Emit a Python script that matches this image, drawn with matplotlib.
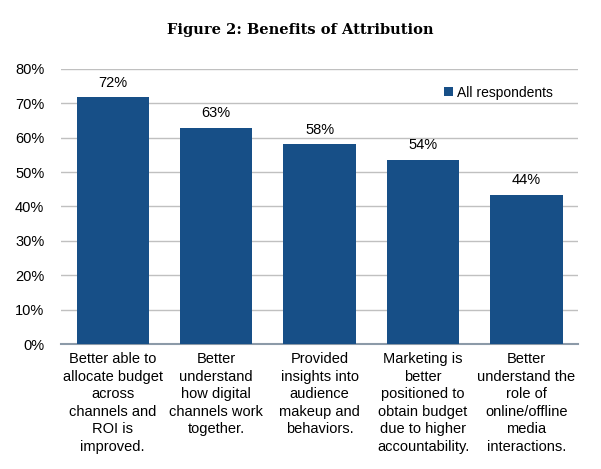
import matplotlib.pyplot as plt
from matplotlib.ticker import PercentFormatter

# Chart data
categories = [
    "Better able to\nallocate budget\nacross\nchannels and\nROI is\nimproved.",
    "Better\nunderstand\nhow digital\nchannels work\ntogether.",
    "Provided\ninsights into\naudience\nmakeup and\nbehaviors.",
    "Marketing is\nbetter\npositioned to\nobtain budget\ndue to higher\naccountability.",
    "Better\nunderstand the\nrole of\nonline/offline\nmedia\ninteractions.",
]
values = [71.8, 62.9, 58.1, 53.6, 43.4]
value_labels = ["72%", "63%", "58%", "54%", "44%"]
series_name = "All respondents"

BAR_COLOR = "#174F87"

plt.rcParams['font.family'] = ['Liberation Sans', 'DejaVu Sans']

fig = plt.figure(figsize=(6.01, 4.69), dpi=100)
ax = fig.add_axes([0.1015, 0.2665, 0.8605, 0.5865])

x = list(range(len(categories)))
bars = ax.bar(x, values, width=0.7, color=BAR_COLOR, label=series_name, zorder=3)

for b, lab in zip(bars, value_labels):
    ax.text(b.get_x() + b.get_width() / 2, b.get_height() + 2.2, lab,
            ha="center", va="bottom", fontsize=10.5)

ax.set_ylim(0, 80)
ax.set_xlim(-0.5, len(categories) - 0.5)
ax.set_yticks(range(0, 81, 10))
ax.yaxis.set_major_formatter(PercentFormatter(decimals=0))
ax.grid(axis="y", color="#C0C0C0", linewidth=1.0, zorder=0)
ax.set_axisbelow(True)

for side in ["top", "right", "left"]:
    ax.spines[side].set_visible(False)
ax.spines["bottom"].set_color("#8C9AA8")
ax.spines["bottom"].set_linewidth(1.5)

ax.set_xticks(x)
ax.set_xticklabels(categories, fontsize=10.5, linespacing=1.32, va="top")
ax.tick_params(axis="x", length=0, pad=6)
ax.tick_params(axis="y", length=0, labelsize=10.5, pad=12)

ax.legend(loc="upper right", bbox_to_anchor=(0.975, 0.985), frameon=False,
          fontsize=10, handlelength=0.6, handleheight=0.6, handletextpad=0.3)

fig.text(0.5, 0.937, "Figure 2: Benefits of Attribution", ha="center", va="center",
         fontsize=10.5, fontweight="bold", family=["DejaVu Serif"])

fig.savefig("out.png", dpi=100)
